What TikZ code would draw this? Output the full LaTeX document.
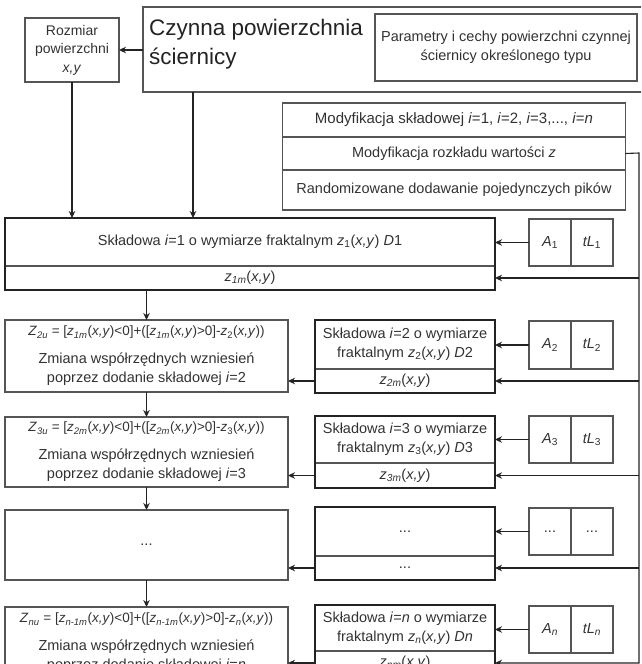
\documentclass[tikz,border=0pt]{standalone}
\usepackage{fontspec}
\setmainfont{Liberation Sans}
\usetikzlibrary{arrows.meta, positioning, calc}
\definecolor{cLine}{RGB}{85,85,85}
\definecolor{cDark}{RGB}{35,35,35}
\definecolor{cText}{RGB}{50,50,50}
\newcommand{\zsub}[1]{\textit{z}\textsubscript{#1}}
\newcommand{\xy}{(\textit{x,y})}
\newcommand{\formfont}{\fontsize{13.5}{17}\selectfont}
\tikzset{
	box/.style     ={rectangle, draw=cLine, line width=1.1pt, align=center, inner sep=2pt, outer sep=0pt, text=cText},
	thickbox/.style={draw=cDark, line width=2.4pt},
	zmiana/.style  ={box, minimum width=283},
	skl/.style     ={box, minimum width=180},
	param/.style   ={box, minimum width=42, minimum height=47},
	arr/.style     ={-{Stealth[length=7pt, width=6.5pt]}, draw=cDark, line width=1.1pt},
}

\begin{document}
\begin{tikzpicture}[x=1pt, y=-1pt, font=\fontsize{14.5}{19}\selectfont]
	\useasboundingbox (0,0) rectangle (641,664);
	\clip (0,0) rectangle (641,664);
	% top part
	\node[box, minimum width=557, minimum height=85, anchor=north west] (czynna) at (143,7) {};
	\node[anchor=north west, inner sep=0pt, align=left, text=cDark, font=\fontsize{22.5}{29}\selectfont] (tytul) at (149,19) {Czynna powierzchnia\\ściernicy};
	\node[box, minimum width=94, minimum height=64, font=\fontsize{14}{18.5}\selectfont] (rozmiar) at (72,50) {Rozmiar\\powierzchni\\\textit{x,y}};
	\node[box, minimum width=262, minimum height=67] (opis) at (506,47.5) {Parametry i cechy powierzchni czynnej\\ściernicy określonego typu};
	\node[box, minimum width=343, minimum height=34, font=\fontsize{15}{19}\selectfont] (mod1) at (454,120) {Modyfikacja składowej \textit{i}=1, \textit{i}=2, \textit{i}=3,..., \textit{i}=\textit{n}};
	\node[box, minimum width=343, minimum height=33] (mod2) at (454,153.5) {Modyfikacja rozkładu wartości \textit{z}};
	\node[box, minimum width=343, minimum height=40] (mod3) at (454,190) {Randomizowane dodawanie pojedynczych pików};

	% skladowa i=1
	\node[box, minimum width=490, minimum height=48] (skl1) at (250,242) {Składowa \textit{i}=1 o wymiarze fraktalnym \zsub{1}\xy\ \textit{D}1};
	\node[box, minimum width=490, minimum height=24] (zm1) at (250,278) {\zsub{\textit{1m}}\xy};
	\node[param] (a1) at (550,242.5) {\textit{A}\textsubscript{1}};
	\node[param, right=0pt of a1] (tl1) {\textit{tL}\textsubscript{1}};

	% skladowa i=2
	\node[zmiana, minimum height=72] (zu2) at (146.5,356) {{\formfont\textit{Z}\textsubscript{\textit{2u}} = [\zsub{\textit{1m}}\xy<0]+([\zsub{\textit{1m}}\xy>0]-\zsub{2}\xy)}\\[9pt]Zmiana współrzędnych wzniesień\\poprzez dodanie składowej \textit{i}=2};
	\node[skl, minimum height=49] (skl2) at (405,344.5) {Składowa \textit{i}=2 o wymiarze\\fraktalnym \zsub{2}\xy\ \textit{D}2};
	\node[skl, minimum height=24] (zm2) at (405,381) {\zsub{\textit{2m}}\xy};
	\node[param, minimum height=48] (a2) at (550,345) {\textit{A}\textsubscript{2}};
	\node[param, minimum height=48, right=0pt of a2] (tl2) {\textit{tL}\textsubscript{2}};

	% skladowa i=3
	\node[zmiana, minimum height=70] (zu3) at (146.5,452) {{\formfont\textit{Z}\textsubscript{\textit{3u}} = [\zsub{\textit{2m}}\xy<0]+([\zsub{\textit{2m}}\xy>0]-\zsub{3}\xy)}\\[9pt]Zmiana współrzędnych wzniesień\\poprzez dodanie składowej \textit{i}=3};
	\node[skl, minimum height=47] (skl3) at (405,439.5) {Składowa \textit{i}=3 o wymiarze\\fraktalnym \zsub{3}\xy\ \textit{D}3};
	\node[skl, minimum height=25] (zm3) at (405,475.5) {\zsub{\textit{3m}}\xy};
	\node[param] (a3) at (550,439.5) {\textit{A}\textsubscript{3}};
	\node[param, right=0pt of a3] (tl3) {\textit{tL}\textsubscript{3}};

	% ...
	\node[zmiana, minimum height=70] (zu4) at (146.5,545) {...};
	\node[skl, minimum height=49] (skl4) at (405,531.5) {...};
	\node[skl, minimum height=24] (zm4) at (405,568) {...};
	\node[param] (a4) at (550,531.5) {...};
	\node[param, right=0pt of a4] (tl4) {...};

	% skladowa i=n
	\node[zmiana, minimum height=72] (zu5) at (146.5,643) {{\formfont\textit{Z}\textsubscript{\textit{nu}} = [\zsub{\textit{n-1m}}\xy<0]+([\zsub{\textit{n-1m}}\xy>0]-\zsub{\textit{n}}\xy)}\\[9pt]Zmiana współrzędnych wzniesień\\poprzez dodanie składowej \textit{i}=\textit{n}};
	\node[skl, minimum height=46] (skl5) at (405,628) {Składowa \textit{i}=\textit{n} o wymiarze\\fraktalnym \zsub{\textit{n}}\xy\ \textit{Dn}};
	\node[skl, minimum height=24] (zm5) at (405,663) {\zsub{\textit{nm}}\xy};
	\node[param] (a5) at (550,629.5) {\textit{A}\textsubscript{\textit{n}}};
	\node[param, right=0pt of a5] (tl5) {\textit{tL}\textsubscript{\textit{n}}};

	% thick frames
	\foreach \r in {1,...,5}
		\draw[thickbox] (skl\r.north west) rectangle (zm\r.south east);

	% connectors
	\coordinate (czdown) at ([xshift=50pt]czynna.south west);
	\coordinate (bus) at (639,153);
	\draw[arr] (czynna.west |- rozmiar.east) -- (rozmiar.east);
	\draw[arr] (rozmiar.south) -- (rozmiar.south |- skl1.north);
	\draw[arr] (czdown) -- (czdown |- skl1.north);
	\draw[arr] (mod2.east) -- (bus) -- (bus |- zm5.east) -- (zm5.east);
	\foreach \r in {1,...,4}
		\draw[arr] (bus |- zm\r.east) -- (zm\r.east);
	\foreach \r in {1,...,5}
		\draw[arr] (a\r.west) -- (skl\r.east |- a\r.west);
	\draw[arr] (zu2.north |- zm1.south) -- (zu2.north);
	\foreach \r/\s in {2/3,3/4,4/5}
		\draw[arr] (zu\r.south) -- (zu\s.north);
	\foreach \r in {2,...,5}
		\draw[arr] (zm\r.west) -- (zu\r.east |- zm\r.west);
\end{tikzpicture}
\end{document}
